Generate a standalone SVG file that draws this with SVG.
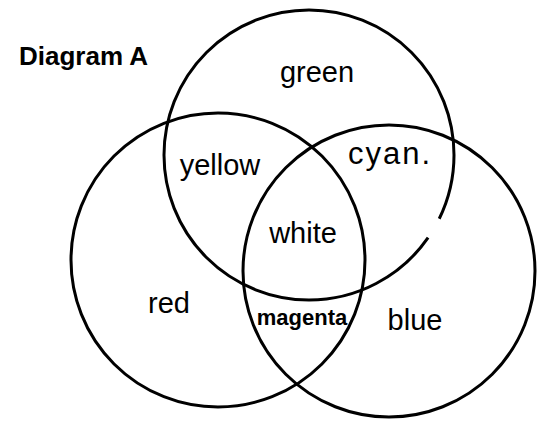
<svg xmlns="http://www.w3.org/2000/svg" width="546" height="422" viewBox="0 0 546 422">
<style>
.c{fill:none;stroke:#000;stroke-width:3}
.t{font-family:"Liberation Sans",Arial,sans-serif;font-size:29px;fill:#000;text-anchor:middle}
.h{font-family:"Liberation Sans",Arial,sans-serif;fill:#000;text-anchor:middle}
.title{font-family:"Liberation Sans",Arial,sans-serif;font-size:26px;font-weight:bold;fill:#000}
</style>
<rect width="546" height="422" fill="#fff"/>
<text class="title" x="19" y="65">Diagram A</text>
<g id="green-circle">
<circle class="c" cx="309" cy="155" r="145" stroke-dasharray="66 22 823"/>
<text class="t" x="317" y="82">green</text>
</g>
<g id="red-circle">
<circle class="c" cx="218" cy="260" r="147"/>
<text class="t" x="169" y="313">red</text>
</g>
<g id="blue-circle">
<circle class="c" cx="389" cy="271" r="146"/>
<text class="t" x="415" y="330">blue</text>
</g>
<g id="yellow-region"><text class="t" x="220" y="175">yellow</text></g>
<g id="cyan-region"><text class="h" x="390" y="164" font-size="31" letter-spacing="2">cyan.</text></g>
<g id="white-region"><text class="t" x="303" y="243">white</text></g>
<g id="magenta-region"><text class="h" x="302" y="325" font-size="22" font-weight="bold">magenta</text></g>
</svg>
